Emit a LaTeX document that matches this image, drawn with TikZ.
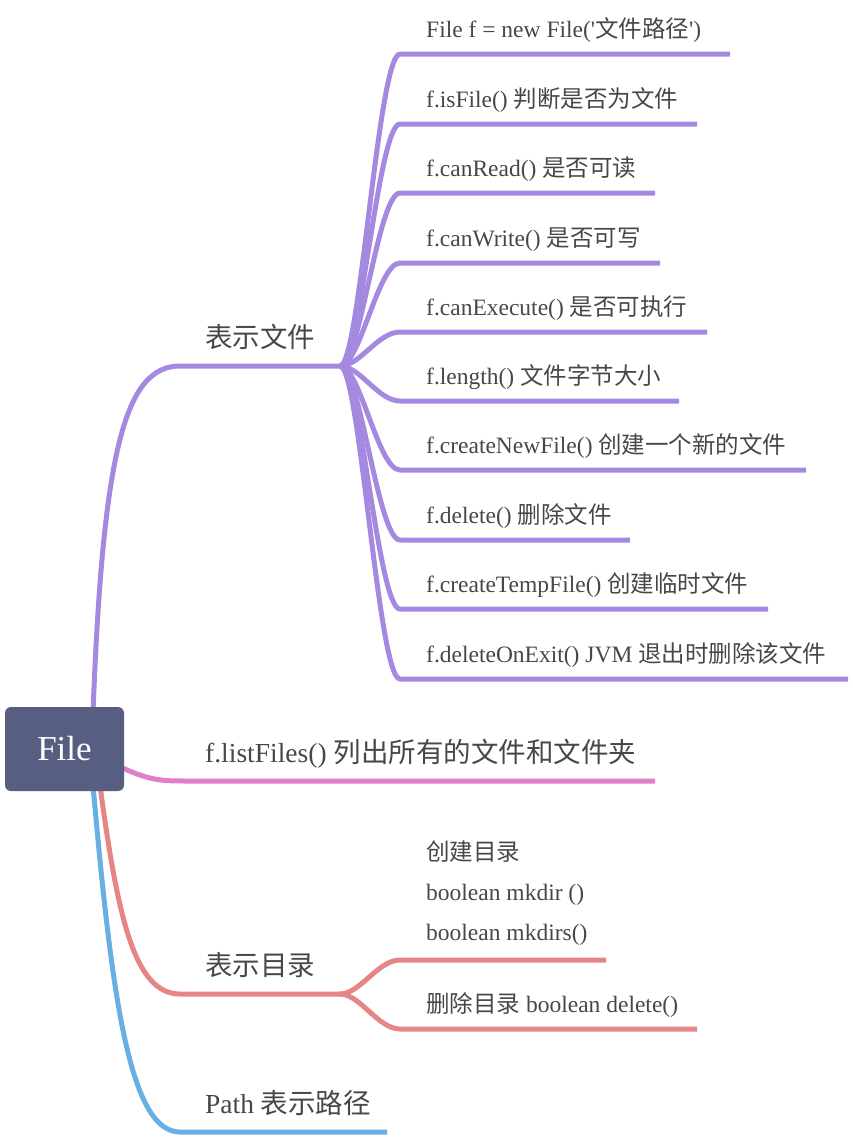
\documentclass[tikz,border=0pt]{standalone}
\usepackage{fontspec}
\setmainfont{Liberation Serif}[Ligatures=TeXOff]
\newfontfamily\cjk{Noto Sans CJK SC}
\newcommand\zh[1]{{\cjk #1}}
\usetikzlibrary{backgrounds}
\definecolor{rootfill}{HTML}{585E82}
\definecolor{filebr}{HTML}{A589E0}
\definecolor{listbr}{HTML}{DF7FC6}
\definecolor{dirbr}{HTML}{E58585}
\definecolor{pathbr}{HTML}{68B0E4}
\definecolor{txt}{HTML}{474747}
\tikzset{
    branch/.style={line width=5pt},
    topic/.style={anchor=base west, inner sep=0pt, text=txt, font=\fontsize{27.5}{33}\selectfont},
    leaf/.style={anchor=base west, inner sep=0pt, text=txt, font=\fontsize{23.5}{28}\selectfont},
}
\begin{document}
\begin{tikzpicture}[x=1pt, y=-1pt]
                \useasboundingbox(0,0)rectangle(852,1138);
                % root
                \node[rounded corners=6pt, fill=rootfill, minimum width=119pt, minimum height=84pt,
                      text=white, font=\fontsize{35}{40}\selectfont] (root) at (64.5,749) {File};
                % main topics
                \node[topic] (file) at (205,347) {\zh{表示文件}};
                \node[topic] (list) at (205,762) {f.listFiles() \zh{列出所有的文件和文件夹}};
                \node[topic] (dir)  at (205,975) {\zh{表示目录}};
                \node[topic] (path) at (205,1113) {Path \zh{表示路径}};
                \coordinate (fileJ) at (340,366);
                \coordinate (dirJ) at (340,994);
                \coordinate (listE) at (655,781);
                \coordinate (pathE) at (387,1132);
                \begin{scope}[on background layer]
                    \coordinate (rootA) at ([xshift=28.5pt, yshift=-6pt]root.north);
                    \coordinate (rootB) at ([xshift=-8pt, yshift=-16pt]root.east);
                    \coordinate (rootC) at ([xshift=35.5pt, yshift=6pt]root.south);
                    \coordinate (rootD) at ([xshift=28.5pt, yshift=6pt]root.south);
                    \draw[branch, filebr](rootA)..controls(103,450)and(125,366)..(180,366)--(fileJ);
                    \draw[branch, listbr](rootB)..controls(150,781)and(160,781)..(190,781)--(listE);
                    \draw[branch, dirbr](rootC)..controls(118,920)and(135,994)..(180,994)--(dirJ);
                    \draw[branch, pathbr](rootD)..controls(112,1000)and(130,1132)..(180,1132)--(pathE);
                \end{scope}
                % leaves of the file topic
                \foreach \y/\e/\t [count=\i] in {
                    54/730/{File f = new File('\zh{文件路径}')},
                    124/697/{f.isFile() \zh{判断是否为文件}},
                    193/655/{f.canRead() \zh{是否可读}},
                    263/660/{f.canWrite() \zh{是否可写}},
                    332/707/{f.canExecute() \zh{是否可执行}},
                    401/679/{f.length() \zh{文件字节大小}},
                    470/806/{f.createNewFile() \zh{创建一个新的文件}},
                    540/630/{f.delete() \zh{删除文件}},
                    609/768/{f.createTempFile() \zh{创建临时文件}},
                    679/848/{f.deleteOnExit() JVM \zh{退出时删除该文件}}}
                    {
                        \node[leaf] (fl\i) at (426,\y-17) {\t};
                        \coordinate (fe\i) at (\e,\y);
                        \draw[branch, filebr](fileJ)..controls(360,366)and(378,\y)..(400,\y)--(fe\i);
                    }
                % leaves of the directory topic
                \node[leaf] (mk0) at (426,860) {\zh{创建目录}};
                \node[leaf] (mk1) at (426,900) {boolean mkdir ()};
                \node[leaf] (mk2) at (426,940) {boolean mkdirs()};
                \node[leaf] (del) at (426,1012) {\zh{删除目录} boolean delete()};
                \coordinate (mkE) at (606,960);
                \coordinate (delE) at (697,1029);
                \draw[branch, dirbr](dirJ)..controls(360,994)and(378,960)..(400,960)--(mkE);
                \draw[branch, dirbr](dirJ)..controls(360,994)and(378,1029)..(400,1029)--(delE);
            \end{tikzpicture}
\end{document}
